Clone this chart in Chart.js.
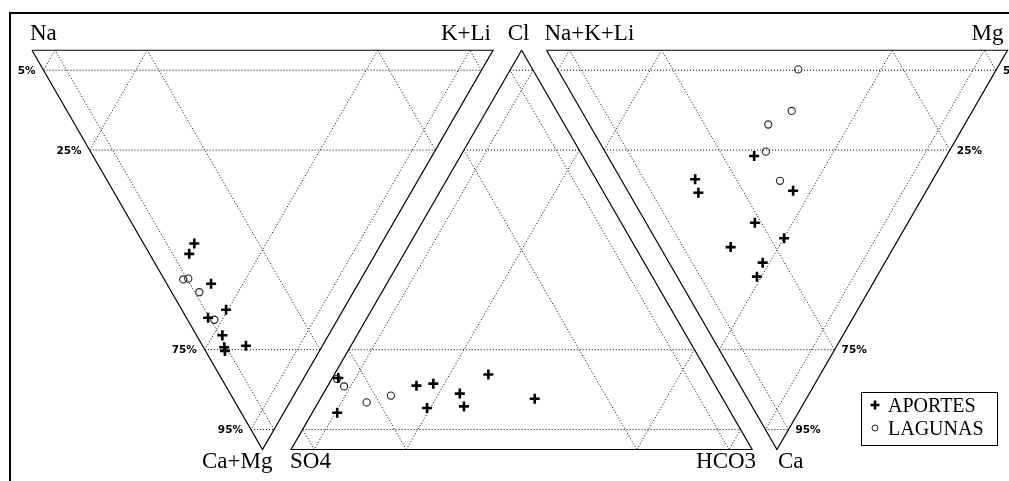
<!DOCTYPE html>
<html>
<head>
<meta charset="utf-8">
<style>
  html, body { margin: 0; padding: 0; background: #fff; overflow: hidden; }
  canvas { display: block; }
</style>
<script src="https://cdn.jsdelivr.net/npm/chart.js@4"></script>
</head>
<body>
<canvas id="piperChart" width="1009" height="481" style="width:1009px;height:481px"></canvas>
<script>
// Compositions in % (each row sums to 100)
// left triangle: [Na, K+Li, Ca+Mg]
const leftAportes = [
    [40.6, 11.0, 48.4], [40.4, 8.6, 51.0], [31.9, 9.6, 58.5], [25.4, 9.6, 65.0], [28.3, 4.7, 67.0],
    [23.0, 5.6, 71.4], [21.1, 4.5, 74.4], [20.5, 4.2, 75.3], [16.6, 9.4, 74.0]
];
const leftLagunas = [
    [38.5, 4.1, 57.4], [37.5, 5.3, 57.2], [33.4, 6.0, 60.6], [26.7, 5.8, 67.5]
];
// middle triangle: [Cl, SO4, HCO3]
const midAportes = [
    [17.9, 80.8, 1.3], [9.2, 85.4, 5.4], [16.0, 64.8, 19.2], [16.5, 60.9, 22.6], [10.4, 65.3, 24.3],
    [14.0, 56.4, 29.6], [10.8, 57.1, 32.1], [18.8, 47.8, 33.4], [12.7, 40.8, 46.5]
];
const midLagunas = [
    [17.7, 81.2, 1.1], [15.8, 80.6, 3.6], [11.8, 77.7, 10.5], [13.5, 71.6, 14.9]
];
// right triangle: [Na+K+Li, Mg, Ca]
const rightAportes = [
    [41.7, 31.8, 26.5], [51.6, 16.1, 32.3], [49.2, 15.1, 35.7], [28.9, 35.9, 35.2], [33.2, 23.6, 43.2],
    [24.9, 28.0, 47.1], [35.4, 15.3, 49.3], [26.5, 20.3, 53.2], [26.0, 17.3, 56.7]
];
const rightLagunas = [
    [43.0, 52.2, 4.8], [39.2, 45.6, 15.2], [42.6, 38.8, 18.6], [39.7, 34.9, 25.4], [33.0, 34.3, 32.7]
];

const gridLevels = [5, 25, 75, 95];
const seriesNames = ['APORTES', 'LAGUNAS'];

// triangle layout in diagram units (side = 100)
const H = 86.6;
const triangles = {
    left:   [[0, H], [100, H], [50, 0]],
    middle: [[106.2, H], [56.2, 0], [156.2, 0]],
    right:  [[111.6, H], [211.6, H], [161.6, 0]]
};

function tern(tri, p) {
    const v = triangles[tri];
    return {
        x: (p[0] * v[0][0] + p[1] * v[1][0] + p[2] * v[2][0]) / 100,
        y: (p[0] * v[0][1] + p[1] * v[1][1] + p[2] * v[2][1]) / 100
    };
}

const datasets = [];

const plusStyle = {
    pointStyle: 'cross', pointRadius: 5, borderWidth: 2.6,
    borderColor: '#000', backgroundColor: '#000', showLine: false, order: 0
};
const circleStyle = {
    pointStyle: 'circle', pointRadius: 3.6, borderWidth: 1.1,
    borderColor: '#222', backgroundColor: 'rgba(0,0,0,0)', showLine: false, order: 0
};

[['left', leftAportes, leftLagunas], ['middle', midAportes, midLagunas], ['right', rightAportes, rightLagunas]]
    .forEach(([tri, ap, lg]) => {
        datasets.push({ label: seriesNames[0], data: ap.map(p => tern(tri, p)), ...plusStyle });
        datasets.push({ label: seriesNames[1], data: lg.map(p => tern(tri, p)), ...circleStyle });
    });

// dotted grid lines
Object.keys(triangles).forEach(tri => {
    for (let i = 0; i < 3; i++) {
        const j = (i + 1) % 3, k = (i + 2) % 3;
        gridLevels.forEach(f => {
            const a = [0, 0, 0], b = [0, 0, 0];
            a[i] = f; a[j] = 100 - f;
            b[i] = f; b[k] = 100 - f;
            datasets.push({
                data: [tern(tri, a), tern(tri, b)],
                showLine: true, pointRadius: 0,
                borderColor: '#000', borderWidth: 1, borderDash: [1, 2], order: 3
            });
        });
    }
    // outline
    const v = triangles[tri];
    datasets.push({
        data: [v[0], v[1], v[2], v[0]].map(p => ({ x: p[0], y: p[1] })),
        showLine: true, pointRadius: 0, borderColor: '#000', borderWidth: 1.2, order: 2
    });
});

// outer frame (left and top side)
datasets.push({
    data: [{ x: -4.77, y: -7 }, { x: -4.77, y: 94.7 }, { x: 213, y: 94.7 }],
    showLine: true, pointRadius: 0, borderColor: '#000', borderWidth: 2, order: 2
});

const vertexLabels = [
    { text: 'Na', tri: 'left', v: 0, dx: -2, dy: -10, align: 'left' },
    { text: 'K+Li', tri: 'left', v: 1, dx: -2, dy: -10, align: 'right' },
    { text: 'Ca+Mg', tri: 'left', v: 2, dx: 10, dy: 18, align: 'right' },
    { text: 'Cl', tri: 'middle', v: 0, dx: -3, dy: -10, align: 'center' },
    { text: 'SO4', tri: 'middle', v: 1, dx: -1, dy: 18, align: 'left' },
    { text: 'HCO3', tri: 'middle', v: 2, dx: 4, dy: 18, align: 'right' },
    { text: 'Na+K+Li', tri: 'right', v: 0, dx: -2, dy: -10, align: 'left' },
    { text: 'Mg', tri: 'right', v: 1, dx: -4, dy: -10, align: 'right' },
    { text: 'Ca', tri: 'right', v: 2, dx: 1, dy: 18, align: 'left' }
];

const labelsPlugin = {
    id: 'piperLabels',
    afterDraw(chart) {
        const { ctx, scales: { x, y } } = chart;
        const px = p => [x.getPixelForValue(p.x), y.getPixelForValue(p.y)];
        ctx.save();
        ctx.fillStyle = '#000';
        ctx.textBaseline = 'alphabetic';
        ctx.font = '23px "Liberation Serif", "Times New Roman", serif';
        vertexLabels.forEach(l => {
            const v = triangles[l.tri][l.v];
            const [X, Y] = px({ x: v[0], y: v[1] });
            ctx.textAlign = l.align;
            ctx.fillText(l.text, X + l.dx, Y + l.dy);
        });

        ctx.font = 'bold 10.5px "DejaVu Sans", sans-serif';
        ctx.textBaseline = 'middle';
        gridLevels.forEach(f => {
            let [X, Y] = px(tern('left', [100 - f, 0, f]));
            ctx.textAlign = 'right';
            ctx.fillText(f + '%', X - 8, Y + 1);
            [X, Y] = px(tern('right', [0, 100 - f, f]));
            ctx.textAlign = 'left';
            ctx.fillText(f + '%', X + 7, Y + 1);
        });

        // legend box
        ctx.strokeStyle = '#000';
        ctx.lineWidth = 1;
        ctx.strokeRect(861.5, 392.5, 136, 53);
        ctx.lineWidth = 2.6;
        ctx.beginPath();
        ctx.moveTo(870.5, 405); ctx.lineTo(879.5, 405);
        ctx.moveTo(875, 400.5); ctx.lineTo(875, 409.5);
        ctx.stroke();
        ctx.lineWidth = 1;
        ctx.strokeStyle = '#222';
        ctx.beginPath();
        ctx.arc(875, 428, 3, 0, Math.PI * 2);
        ctx.stroke();
        ctx.font = '20px "Liberation Serif", "Times New Roman", serif';
        ctx.textAlign = 'left';
        ctx.textBaseline = 'alphabetic';
        ctx.fillText(seriesNames[0], 888, 412);
        ctx.fillText(seriesNames[1], 888, 435);
        ctx.restore();
    }
};

new Chart(document.getElementById('piperChart').getContext('2d'), {
    type: 'scatter',
    data: { datasets },
    options: {
        responsive: false,
        animation: false,
        events: [],
        layout: { padding: 0, autoPadding: false },
        plugins: { legend: { display: false }, tooltip: { enabled: false } },
        scales: {
            x: { type: 'linear', min: -6.94, max: 211.93, display: false },
            y: { type: 'linear', min: -6.83, max: 97.5, display: false }
        }
    },
    plugins: [labelsPlugin]
});
</script>
</body>
</html>
